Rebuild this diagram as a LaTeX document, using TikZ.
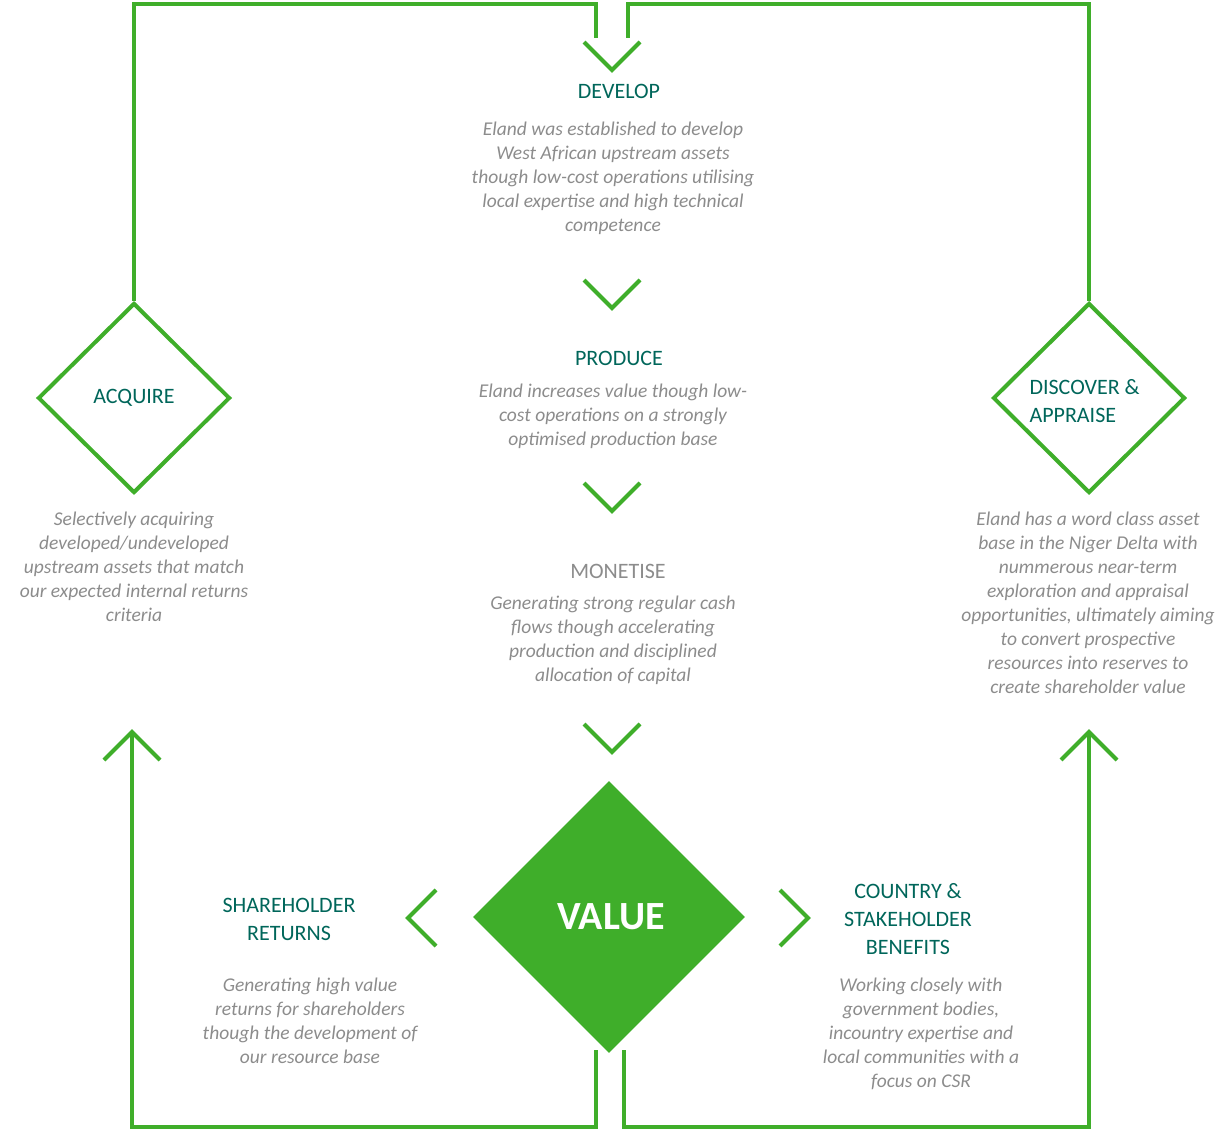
\documentclass[tikz,border=0pt]{standalone}
\usepackage{fontspec}
\setmainfont{Carlito}
\usetikzlibrary{shapes.geometric}
\begin{document}
\begin{tikzpicture}[x=1pt,y=-1pt,
  ln/.style={draw=grn,line width=4pt},
  head/.style={text=teal1,font=\fontsize{22}{28}\selectfont,align=center},
  body/.style={text=gry,font=\itshape\fontsize{19.5}{24}\selectfont,align=center}]
\definecolor{grn}{HTML}{3FAE2A}
\definecolor{teal1}{HTML}{00665A}
\definecolor{gry}{HTML}{8C8C8C}
\useasboundingbox (0,0) rectangle (1232,1131);
% diamonds
\node[ln,diamond,minimum width=192pt,minimum height=190pt,inner sep=0pt] (acq) at (134,398) {};
\node[ln,diamond,minimum width=192pt,minimum height=190pt,inner sep=0pt] (dis) at (1089,398) {};
\node[fill=grn,diamond,minimum width=272pt,minimum height=272pt,inner sep=0pt] (val) at (609,917) {};
\node[text=white,font=\bfseries\fontsize{40}{44}\selectfont] (valt) at (611,917) {VALUE};
\node[head] at (134,398) {ACQUIRE};
\node[head,align=left,anchor=west] at (1026,401) {DISCOVER \&\\APPRAISE};
% loops
\coordinate (t1) at (596,38); \coordinate (t2) at (628,38);
\draw[ln] (acq.north) |- (596,4) -- (t1);
\draw[ln] (t2) -- (628,4) -| (dis.north);
\coordinate (b1) at (596,1050); \coordinate (b2) at (624,1050);
\draw[ln] (b1) -- (596,1127) -| (132,732);
\draw[ln] (b2) -- (624,1127) -| (1089,732);
% chevrons
\foreach \y in {42,280,483,724}{\draw[ln] (584,\y) -- (612,\y+28) -- (640,\y);}
\draw[ln] (104,760) -- (132,732) -- (160,760);
\draw[ln] (1061,760) -- (1089,732) -- (1117,760);
\draw[ln] (436,890) -- (408,918) -- (436,946);
\draw[ln] (780,890) -- (808,918) -- (780,946);
% texts
\node[head] at (619,91) {DEVELOP};
\node[body,anchor=north] at (613,118) {Eland was established to develop\\West African upstream assets\\though low-cost operations utilising\\local expertise and high technical\\competence};
\node[head] at (619,358) {PRODUCE};
\node[body,anchor=north] at (613,380) {Eland increases value though low-\\cost operations on a strongly\\optimised production base};
\node[head,text=gry] at (618,571) {MONETISE};
\node[body,anchor=north] at (613,592) {Generating strong regular cash\\flows though accelerating\\production and disciplined\\allocation of capital};
\node[body,anchor=north] at (134,508) {Selectively acquiring\\developed/undeveloped\\upstream assets that match\\our expected internal returns\\criteria};
\node[body,anchor=north] at (1088,508) {Eland has a word class asset\\base in the Niger Delta with\\nummerous near-term\\exploration and appraisal\\opportunities, ultimately aiming\\to convert prospective\\resources into reserves to\\create shareholder value};
\node[head] at (289,919) {SHAREHOLDER\\RETURNS};
\node[body,anchor=north] at (310,974) {Generating high value\\returns for shareholders\\though the development of\\our resource base};
\node[head] at (908,919) {COUNTRY \&\\STAKEHOLDER\\BENEFITS};
\node[body,anchor=north] at (921,974) {Working closely with\\government bodies,\\incountry expertise and\\local communities with a\\focus on CSR};
\end{tikzpicture}
\end{document}
